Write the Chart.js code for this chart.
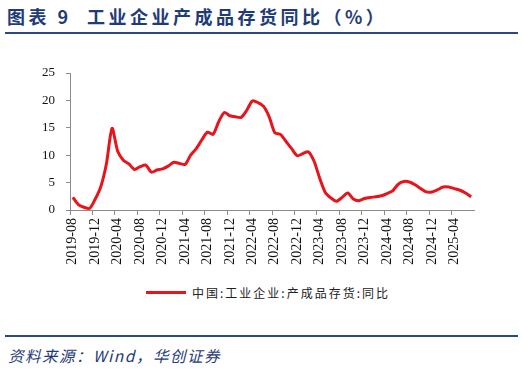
<!DOCTYPE html>
<html>
<head>
<meta charset="utf-8">
<script src="https://cdn.jsdelivr.net/npm/chart.js@4.4.0/dist/chart.umd.min.js"></script>
<style>
  body { margin: 0; width: 524px; height: 370px; background: #fff; position: relative; overflow: hidden; }
  .title { position: absolute; left: 7px; top: 4px; font-family: "Noto Sans CJK SC", sans-serif; font-weight: bold;
           font-size: 18px; letter-spacing: 3.5px; color: #1f3c78; white-space: pre; line-height: 24px; }
  .rule { position: absolute; left: 5px; width: 513px; height: 2px; background: #2a4a85; }
  .chart-box { position: absolute; left: 0; top: 40px; width: 524px; height: 240px; }
  .legend { position: absolute; top: 283px; left: 146px; height: 18px; display: flex; align-items: center;
            font-family: "Noto Sans CJK SC", sans-serif; font-size: 12px; letter-spacing: 2px; color: #222; }
  .legend .swatch { width: 40px; height: 3px; background: #e8141c; margin-right: 6px; }
  .source { position: absolute; left: 8px; top: 345px; font-family: "Noto Sans CJK SC", sans-serif; font-style: italic;
            font-size: 15.5px; letter-spacing: 1.5px; color: #1f3c78; line-height: 20px; }
</style>
</head>
<body>
<div class="title">图表 9  工业企业产成品存货同比（%）</div>
<div class="rule" style="top:32px"></div>
<div class="chart-box"><canvas id="inventoryChart"></canvas></div>
<div class="legend"><span class="swatch"></span><span>中国:工业企业:产成品存货:同比</span></div>
<div class="rule" style="top:335px"></div>
<div class="source">资料来源：Wind，华创证券</div>

<script>
// monthly, 2019-08 .. 2025-07
const months = [];
for (let y = 2019; y <= 2025; y++) {
    for (let m = 1; m <= 12; m++) {
        if ((y === 2019 && m < 8) || (y === 2025 && m > 7)) continue;
        months.push(y + '-' + String(m).padStart(2, '0'));
    }
}

// 中国:工业企业:产成品存货:同比 (%)
const inventoryYoY = [
    2.3, 1.0, 0.5, 0.3, 2.0, 4.3, 8.5, 14.9, 10.7, 9.1, 8.4, 7.4,
    7.9, 8.2, 6.9, 7.3, 7.5, 8.0, 8.7, 8.5, 8.3, 10.0, 11.2, 12.8,
    14.2, 13.8, 16.1, 17.8, 17.2, 17.0, 16.9, 18.2, 19.9, 19.6, 18.9, 17.0,
    14.1, 13.8, 12.5, 11.2, 9.9, 10.3, 10.6, 8.9, 5.8, 3.2, 2.2, 1.6,
    2.3, 3.1, 2.0, 1.7, 2.1, 2.3, 2.4, 2.6, 3.0, 3.5, 4.7, 5.2,
    5.1, 4.6, 3.9, 3.3, 3.3, 3.7, 4.2, 4.2, 3.9, 3.6, 3.1, 2.4
];

const yTicks = [0, 5, 10, 15, 20, 25];
const labelEvery = 4;

const axisColor = '#8c8c8c';
const serif = '"Times New Roman", "Liberation Serif", serif';

new Chart(document.getElementById('inventoryChart'), {
    type: 'line',
    data: {
        labels: months,
        datasets: [{
            label: '中国:工业企业:产成品存货:同比',
            data: inventoryYoY,
            borderColor: '#e8141c',
            borderWidth: 3,
            pointRadius: 0,
            tension: 0.25,
            fill: false
        }]
    },
    options: {
        responsive: true,
        maintainAspectRatio: false,
        animation: false,
        layout: { padding: { top: 33, right: 50, left: 0, bottom: 0 } },
        plugins: {
            legend: { display: false },
            tooltip: { enabled: false }
        },
        scales: {
            x: {
                offset: true,
                afterFit: scale => { scale.height = 70; },
                border: { color: axisColor, width: 1 },
                grid: {
                    offset: true,
                    drawOnChartArea: false,
                    drawTicks: true,
                    tickLength: 5,
                    color: ctx => (ctx.index % labelEvery === 0 ? axisColor : 'rgba(0,0,0,0)')
                },
                ticks: {
                    autoSkip: false,
                    minRotation: 90,
                    maxRotation: 90,
                    padding: 3,
                    color: '#111',
                    font: { family: serif, size: 14 },
                    callback: function(value, index) {
                        return index % labelEvery === 0 ? months[index] : '';
                    }
                }
            },
            y: {
                min: 0,
                max: 25,
                afterFit: scale => { scale.width = 70; },
                afterBuildTicks: scale => { scale.ticks = yTicks.map(v => ({ value: v })); },
                border: { color: axisColor, width: 1 },
                grid: {
                    drawOnChartArea: false,
                    drawTicks: true,
                    tickLength: 4,
                    color: axisColor
                },
                ticks: {
                    padding: 11,
                    color: '#111',
                    font: { family: serif, size: 13 }
                }
            }
        }
    }
});
</script>
</body>
</html>
